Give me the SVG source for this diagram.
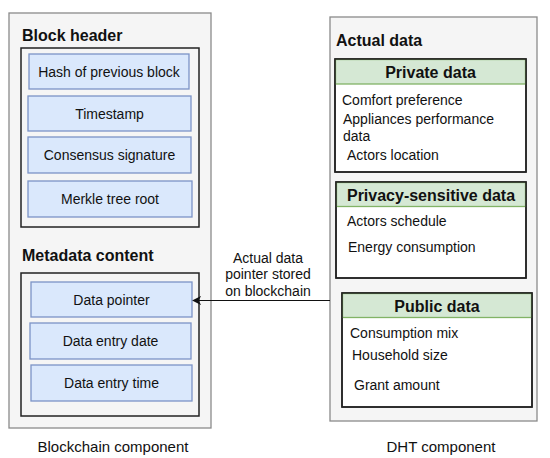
<svg xmlns="http://www.w3.org/2000/svg" width="550" height="458" viewBox="0 0 550 458">
<defs>
<style>
text{font-family:"Liberation Sans",Arial,sans-serif;fill:#111}
.cont{fill:#f5f5f5;stroke:#8a8a8a;stroke-width:1.3}
.frame{fill:none;stroke:#222;stroke-width:1.5}
.item{fill:#dae8fc;stroke:#7b93c6;stroke-width:1.3}
.wbox{fill:#fff;stroke:#222;stroke-width:1.5}
.hdr{fill:#d5e8d4;stroke:#82b366;stroke-width:1.3}
.t14{font-size:14px}
.c{text-anchor:middle}
.b16{font-size:16px;font-weight:bold}
.t15{font-size:15px}
</style>
<marker id="ah" viewBox="0 0 10 10" refX="9" refY="5" markerWidth="9" markerHeight="9" markerUnits="userSpaceOnUse" orient="auto"><path d="M0,0 L10,5 L0,10 L3,5 Z" fill="#111"/></marker>
</defs>
<g id="blockchain">
<rect class="cont" x="9" y="13" width="202" height="415"/>
<text class="b16" x="22" y="41">Block header</text>
<rect class="frame" x="21" y="48" width="178" height="179"/>
<text class="b16" x="22" y="261">Metadata content</text>
<rect class="frame" x="21" y="273" width="178" height="143"/>
<text class="t15 c" x="113" y="452">Blockchain component</text>
</g>
<g id="hash"><rect class="item" x="29" y="54" width="160" height="35"/><text class="t14 c" x="109" y="76.5">Hash of previous block</text></g>
<g id="timestamp"><rect class="item" x="28" y="96" width="163" height="35"/><text class="t14 c" x="109.5" y="118.5">Timestamp</text></g>
<g id="consensus"><rect class="item" x="28" y="137" width="163" height="36"/><text class="t14 c" x="109.5" y="160">Consensus signature</text></g>
<g id="merkle"><rect class="item" x="28" y="181" width="164" height="36"/><text class="t14 c" x="110" y="204">Merkle tree root</text></g>
<g id="datapointer"><rect class="item" x="31" y="282" width="161" height="35"/><text class="t14 c" x="111.5" y="304.5">Data pointer</text></g>
<g id="entrydate"><rect class="item" x="30" y="323" width="161" height="36"/><text class="t14 c" x="110.5" y="346">Data entry date</text></g>
<g id="entrytime"><rect class="item" x="31" y="365" width="161" height="36"/><text class="t14 c" x="111.5" y="388">Data entry time</text></g>
<g id="dht">
<rect class="cont" x="330" y="17" width="207" height="404"/>
<text class="b16" x="336" y="46">Actual data</text>
<text class="t15 c" x="441" y="452">DHT component</text>
</g>
<g id="private">
<rect class="wbox" x="335" y="59" width="191" height="113"/>
<rect class="hdr" x="335.5" y="59.5" width="190" height="24.5"/>
<rect x="335" y="59" width="191" height="113" fill="none" stroke="#222" stroke-width="1.5"/>
<text class="b16 c" x="430.5" y="78">Private data</text>
<text class="t14" x="342" y="105">Comfort preference</text>
<text class="t14" x="343" y="124">Appliances performance</text>
<text class="t14" x="343" y="141">data</text>
<text class="t14" x="347" y="160">Actors location</text>
</g>
<g id="privacy">
<rect class="wbox" x="336" y="182" width="190" height="96"/>
<rect class="hdr" x="336.5" y="182.5" width="189" height="24"/>
<rect x="336" y="182" width="190" height="96" fill="none" stroke="#222" stroke-width="1.5"/>
<text class="b16 c" x="431" y="200.5">Privacy-sensitive data</text>
<text class="t14" x="347" y="226">Actors schedule</text>
<text class="t14" x="348" y="252">Energy consumption</text>
</g>
<g id="public">
<rect class="wbox" x="342" y="293" width="190" height="114"/>
<rect class="hdr" x="342.5" y="293.5" width="189" height="24"/>
<rect x="342" y="293" width="190" height="114" fill="none" stroke="#222" stroke-width="1.5"/>
<text class="b16 c" x="437" y="311.5">Public data</text>
<text class="t14" x="350" y="338">Consumption mix</text>
<text class="t14" x="352" y="360">Household size</text>
<text class="t14" x="354" y="390">Grant amount</text>
</g>
<g id="connectors">
<line x1="330" y1="300.5" x2="193" y2="300.5" stroke="#111" stroke-width="1.2" marker-end="url(#ah)"/>
<text class="t14 c" x="268" y="263">Actual data</text>
<text class="t14 c" x="268" y="279">pointer stored</text>
<text class="t14 c" x="268" y="296">on blockchain</text>
</g>
</svg>
